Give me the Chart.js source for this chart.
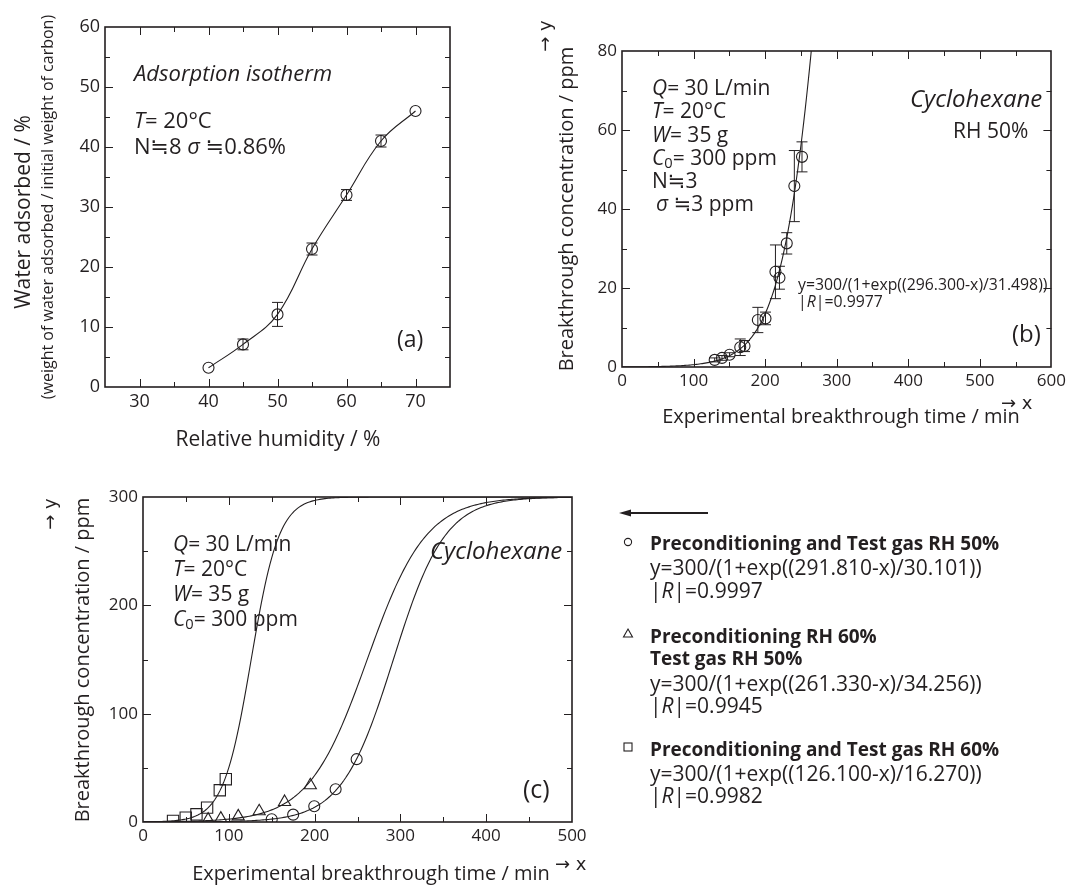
<!DOCTYPE html>
<html>
<head>
<meta charset="utf-8">
<script src="https://cdn.jsdelivr.net/npm/chart.js@4.4.1/dist/chart.umd.min.js"></script>
<style>
  html, body { margin: 0; padding: 0; background: #fff; }
  #page { position: relative; width: 1070px; height: 886px; overflow: hidden;
          font-family: "Open Sans", "DejaVu Sans", sans-serif; color: #231f20; }
  canvas.plot { position: absolute; left: 0; top: 0; pointer-events: none; }
  .t { position: absolute; white-space: nowrap; line-height: 1; transform: translateY(-50%); }
  .c { transform: translate(-50%, -50%); }
  .r { transform: translate(-50%, -50%) rotate(-90deg); }
  .b { font-weight: 700; }
  i { font-style: italic; }
  sub { font-size: 0.7em; vertical-align: -0.25em; line-height: 0; }
  .arr { font-family: "DejaVu Sans", sans-serif; }
</style>
</head>
<body>
<div id="page">
  <canvas class="plot" id="chartA" width="1070" height="886"></canvas>
  <canvas class="plot" id="chartB" width="1070" height="886"></canvas>
  <canvas class="plot" id="chartC" width="1070" height="886"></canvas>

  <!-- (a) adsorption isotherm -->
  <div class="t r" style="left:22px;top:212px;font-size:21px">Water adsorbed / %</div>
  <div class="t r" style="left:47px;top:207px;font-size:16px">(weight of water adsorbed / initial weight of carbon)</div>
  <div class="t c" style="left:278px;top:438px;font-size:21px">Relative humidity / %</div>
  <div class="t" style="left:134px;top:72px;font-size:22px"><i>Adsorption isotherm</i></div>
  <div class="t" style="left:134px;top:119px;font-size:22px"><i>T</i>= 20°C</div>
  <div class="t" style="left:134px;top:145px;font-size:22px">N≒8 <i>σ</i> ≒0.86%</div>
  <div class="t" style="left:397px;top:338px;font-size:23px">(a)</div>

  <!-- (b) breakthrough curve, RH 50% -->
  <div class="t r" style="left:566px;top:209px;font-size:20px">Breakthrough concentration / ppm</div>
  <div class="t r arr" style="left:545px;top:36px;font-size:18px">→ y</div>
  <div class="t c" style="left:841px;top:416px;font-size:20px">Experimental breakthrough time / min</div>
  <div class="t arr" style="left:1001px;top:403px;font-size:18px">→ x</div>
  <div class="t" style="left:652px;top:87px;font-size:21px"><i>Q</i>= 30 L/min</div>
  <div class="t" style="left:652px;top:110px;font-size:21px"><i>T</i>= 20°C</div>
  <div class="t" style="left:652px;top:134px;font-size:21px"><i>W</i>= 35 g</div>
  <div class="t" style="left:652px;top:157px;font-size:21px"><i>C</i><sub>0</sub>= 300 ppm</div>
  <div class="t" style="left:652px;top:180px;font-size:21px">N≒3</div>
  <div class="t" style="left:656px;top:203px;font-size:21px"><i>σ</i> ≒3 ppm</div>
  <div class="t" style="left:910px;top:98px;font-size:24px"><i>Cyclohexane</i></div>
  <div class="t" style="left:953px;top:130px;font-size:21px">RH 50%</div>
  <div class="t" style="left:798px;top:285px;font-size:15.8px">y=300/(1+exp((296.300-x)/31.498))</div>
  <div class="t" style="left:798px;top:302px;font-size:15.8px">|<i>R</i>|=0.9977</div>
  <div class="t" style="left:1012px;top:333px;font-size:24px">(b)</div>

  <!-- (c) breakthrough curves for three humidity conditions -->
  <div class="t r" style="left:82px;top:660px;font-size:20px">Breakthrough concentration / ppm</div>
  <div class="t r arr" style="left:50px;top:514px;font-size:18px">→ y</div>
  <div class="t c" style="left:371px;top:873px;font-size:20px">Experimental breakthrough time / min</div>
  <div class="t arr" style="left:555px;top:864px;font-size:18px">→ x</div>
  <div class="t" style="left:173px;top:543px;font-size:21px"><i>Q</i>= 30 L/min</div>
  <div class="t" style="left:173px;top:568px;font-size:21px"><i>T</i>= 20°C</div>
  <div class="t" style="left:173px;top:593px;font-size:21px"><i>W</i>= 35 g</div>
  <div class="t" style="left:173px;top:618px;font-size:21px"><i>C</i><sub>0</sub>= 300 ppm</div>
  <div class="t" style="left:430px;top:550px;font-size:24px"><i>Cyclohexane</i></div>
  <div class="t" style="left:523px;top:788px;font-size:25px">(c)</div>

  <!-- key for panel (c) -->
  <svg style="position:absolute;left:0;top:0" width="1070" height="886">
    <line x1="628" y1="513" x2="708" y2="513" stroke="#231f20" stroke-width="2.2"/>
    <polygon points="619,513 631,509.5 631,516.5" fill="#231f20"/>
    <circle cx="628" cy="542" r="3.6" fill="none" stroke="#231f20" stroke-width="1.1"/>
    <polygon points="628,629 632.5,637 623.5,637" fill="none" stroke="#231f20" stroke-width="1.1"/>
    <rect x="624" y="743" width="8" height="8" fill="none" stroke="#231f20" stroke-width="1.1"/>
  </svg>
  <div class="t b" style="left:650px;top:543px;font-size:19px">Preconditioning and Test gas RH 50%</div>
  <div class="t" style="left:650px;top:567px;font-size:21px">y=300/(1+exp((291.810-x)/30.101))</div>
  <div class="t" style="left:650px;top:590px;font-size:21px">|<i>R</i>|=0.9997</div>
  <div class="t b" style="left:650px;top:636px;font-size:19px">Preconditioning RH 60%</div>
  <div class="t b" style="left:650px;top:658px;font-size:19px">Test gas RH 50%</div>
  <div class="t" style="left:650px;top:683px;font-size:21px">y=300/(1+exp((261.330-x)/34.256))</div>
  <div class="t" style="left:650px;top:705px;font-size:21px">|<i>R</i>|=0.9945</div>
  <div class="t b" style="left:650px;top:749px;font-size:19px">Preconditioning and Test gas RH 60%</div>
  <div class="t" style="left:650px;top:773px;font-size:21px">y=300/(1+exp((126.100-x)/16.270))</div>
  <div class="t" style="left:650px;top:795px;font-size:21px">|<i>R</i>|=0.9982</div>
</div>

<script>
// ---------- data ----------
// (a) water adsorption isotherm
const humidity       = [40, 45, 50, 55, 60, 65, 70];
const waterAdsorbed  = [3.2, 7.1, 12.1, 23.0, 32.0, 41.0, 46.0];
const waterError     = [0, 0.9, 2.0, 1.0, 0.9, 1.0, 0];

// (b) breakthrough at RH 50 % with standard deviations
const timeB  = [129.5, 139.7, 150.3, 165.2, 171.2, 189.8, 200.5, 214.4, 220.0, 230.2, 240.8, 251.5];
const concB  = [1.8, 2.3, 3.1, 5.0, 5.3, 11.9, 12.3, 24.1, 22.6, 31.3, 45.8, 53.2];
const errorB = [0.5, 0.6, 0.5, 2.1, 1.4, 3.2, 1.6, 6.8, 2.9, 2.7, 9.0, 3.8];
const fitB   = [296.300, 31.498];          // centre, width of the logistic fit

// (c) three preconditioning / test-gas humidity conditions
const timeRH50   = [150, 175, 199.6, 224.5, 249];
const concRH50   = [2.5, 6.8, 14.5, 30.2, 58];
const timePre60  = [75.9, 90.7, 111, 135.4, 165, 195];
const concPre60  = [2.2, 3.1, 5.2, 9.9, 18.5, 33.9];
const timeRH60   = [35, 49.8, 62.3, 74.7, 89.5, 96.5];
const concRH60   = [1.0, 4.0, 7.1, 13.3, 29.3, 39.5];
const fitCentres = [291.810, 261.330, 126.100];
const fitWidths  = [30.101, 34.256, 16.270];
const inletConc  = 300;                    // C0, ppm

// tick labels
const ticksAx = [30, 40, 50, 60, 70];
const ticksAy = [0, 10, 20, 30, 40, 50, 60];
const ticksBx = [0, 100, 200, 300, 400, 500, 600];
const ticksBy = [0, 20, 40, 60, 80];
const ticksCx = [0, 100, 200, 300, 400, 500];
const ticksCy = [0, 100, 200, 300];

// ---------- helpers ----------
const INK = '#231f20';
const pts = (xs, ys) => xs.map((x, i) => ({ x, y: ys[i] }));

// logistic breakthrough curve y = C0 / (1 + exp((a - x) / b)) from the fitted parameters
function logistic(a, b, xMax) {
  const out = [];
  for (let x = 0; x <= xMax; x += 2) out.push({ x, y: inletConc / (1 + Math.exp((a - x) / b)) });
  return out;
}

// box frame with inward major / minor ticks on all four sides
const frameTicks = {
  id: 'frameTicks',
  afterDatasetsDraw(chart, args, o) {
    const { ctx, chartArea: a, scales: { x, y } } = chart;
    ctx.save();
    ctx.strokeStyle = INK;
    ctx.lineWidth = 1;
    ctx.beginPath();
    const markX = (vals, len) => {
      vals.forEach(v => {
        const px = Math.round(x.getPixelForValue(v)) + 0.5;
        ctx.moveTo(px, a.bottom); ctx.lineTo(px, a.bottom - len);
        ctx.moveTo(px, a.top);    ctx.lineTo(px, a.top + len);
      });
    };
    const markY = (vals, len) => {
      vals.forEach(v => {
        const py = Math.round(y.getPixelForValue(v)) + 0.5;
        ctx.moveTo(a.left, py);  ctx.lineTo(a.left + len, py);
        ctx.moveTo(a.right, py); ctx.lineTo(a.right - len, py);
      });
    };
    markX(o.xMajor, 8); markX(o.xMinor, 5);
    markY(o.yMajor, 8); markY(o.yMinor, 5);
    ctx.stroke();
    ctx.lineWidth = 1.6;
    ctx.strokeRect(Math.round(a.left), Math.round(a.top), Math.round(a.right - a.left), Math.round(a.bottom - a.top));
    ctx.restore();
  }
};

// vertical error bars with caps, taken from dataset.errors
const errorBars = {
  id: 'errorBars',
  afterDatasetsDraw(chart) {
    const { ctx, scales: { x, y } } = chart;
    ctx.save();
    ctx.strokeStyle = INK;
    ctx.lineWidth = 1;
    chart.data.datasets.forEach(ds => {
      if (!ds.errors) return;
      ds.data.forEach((p, i) => {
        const e = ds.errors[i];
        if (!e) return;
        const px = x.getPixelForValue(p.x);
        const top = y.getPixelForValue(p.y + e), bot = y.getPixelForValue(p.y - e);
        ctx.beginPath();
        ctx.moveTo(px, top); ctx.lineTo(px, bot);
        ctx.moveTo(px - 5.5, top); ctx.lineTo(px + 5.5, top);
        ctx.moveTo(px - 5.5, bot); ctx.lineTo(px + 5.5, bot);
        ctx.stroke();
      });
    });
    ctx.restore();
  }
};

function axes(xMin, xMax, xTicks, yMin, yMax, yTicks, size) {
  const font = { family: '"Open Sans", sans-serif', size };
  return {
    x: {
      type: 'linear', min: xMin, max: xMax,
      afterBuildTicks: s => { s.ticks = xTicks.map(v => ({ value: v })); },
      afterFit: s => { s.height = 30; },
      grid: { display: false, drawTicks: false },
      border: { display: false },
      ticks: { autoSkip: false, maxRotation: 0, padding: 4, color: INK, font }
    },
    y: {
      type: 'linear', min: yMin, max: yMax,
      afterBuildTicks: s => { s.ticks = yTicks.map(v => ({ value: v })); },
      afterFit: s => { s.width = 40; },
      grid: { display: false, drawTicks: false },
      border: { display: false },
      ticks: { autoSkip: false, padding: 5, color: INK, font }
    }
  };
}

// chart area in page pixels: left, top, right, bottom
function layoutFor(left, top, right, bottom) {
  return { padding: { left: left - 40, top: top, right: 1070 - right, bottom: 886 - bottom - 30 } };
}

const markerBase = {
  pointBorderColor: INK, pointBackgroundColor: 'rgba(255,255,255,0)',
  pointBorderWidth: 1.1, pointHoverRadius: 0
};
const curveBase = { borderColor: INK, borderWidth: 1.1, pointRadius: 0, showLine: true, fill: false };

const common = {
  responsive: false, animation: false, events: [],
  plugins: { legend: { display: false }, tooltip: { enabled: false } }
};

// ---------- (a) ----------
new Chart(document.getElementById('chartA'), {
  type: 'scatter',
  data: {
    datasets: [{
      ...markerBase,
      data: pts(humidity, waterAdsorbed),
      errors: waterError,
      showLine: true, tension: 0.4,
      borderColor: INK, borderWidth: 1.1,
      pointStyle: 'circle', pointRadius: 5.5
    }]
  },
  options: {
    ...common,
    layout: layoutFor(105, 27, 450, 387),
    scales: axes(25, 75, ticksAx, 0, 60, ticksAy, 18),
    plugins: { ...common.plugins,
      frameTicks: { xMajor: [30, 40, 50, 60, 70], xMinor: [35, 45, 55, 65],
                    yMajor: [10, 20, 30, 40, 50], yMinor: [5, 15, 25, 35, 45, 55] } }
  },
  plugins: [errorBars, frameTicks]
});

// ---------- (b) ----------
new Chart(document.getElementById('chartB'), {
  type: 'scatter',
  data: {
    datasets: [
      { ...curveBase, data: logistic(fitB[0], fitB[1], 600) },
      { ...markerBase, data: pts(timeB, concB), errors: errorB, pointStyle: 'circle', pointRadius: 5.5 }
    ]
  },
  options: {
    ...common,
    layout: layoutFor(622, 51, 1053, 367),
    scales: axes(0, 600, ticksBx, 0, 80, ticksBy, 17),
    plugins: { ...common.plugins,
      frameTicks: { xMajor: [100, 200, 300, 400, 500], xMinor: [50, 150, 250, 350, 450, 550],
                    yMajor: [20, 40, 60], yMinor: [10, 30, 50, 70] } }
  },
  plugins: [errorBars, frameTicks]
});

// ---------- (c) ----------
new Chart(document.getElementById('chartC'), {
  type: 'scatter',
  data: {
    datasets: [
      { ...curveBase, data: logistic(fitCentres[0], fitWidths[0], 500) },
      { ...curveBase, data: logistic(fitCentres[1], fitWidths[1], 500) },
      { ...curveBase, data: logistic(fitCentres[2], fitWidths[2], 500) },
      { ...markerBase, data: pts(timeRH50, concRH50), pointStyle: 'circle', pointRadius: 5.5 },
      { ...markerBase, data: pts(timePre60, concPre60), pointStyle: 'triangle', pointRadius: 7 },
      { ...markerBase, data: pts(timeRH60, concRH60), pointStyle: 'rect', pointRadius: 8 }
    ]
  },
  options: {
    ...common,
    layout: layoutFor(143, 497, 572, 822),
    scales: axes(0, 500, ticksCx, 0, 300, ticksCy, 17),
    plugins: { ...common.plugins,
      frameTicks: { xMajor: [100, 200, 300, 400], xMinor: [50, 150, 250, 350, 450],
                    yMajor: [100, 200], yMinor: [50, 150, 250] } }
  },
  plugins: [frameTicks]
});
</script>
</body>
</html>
